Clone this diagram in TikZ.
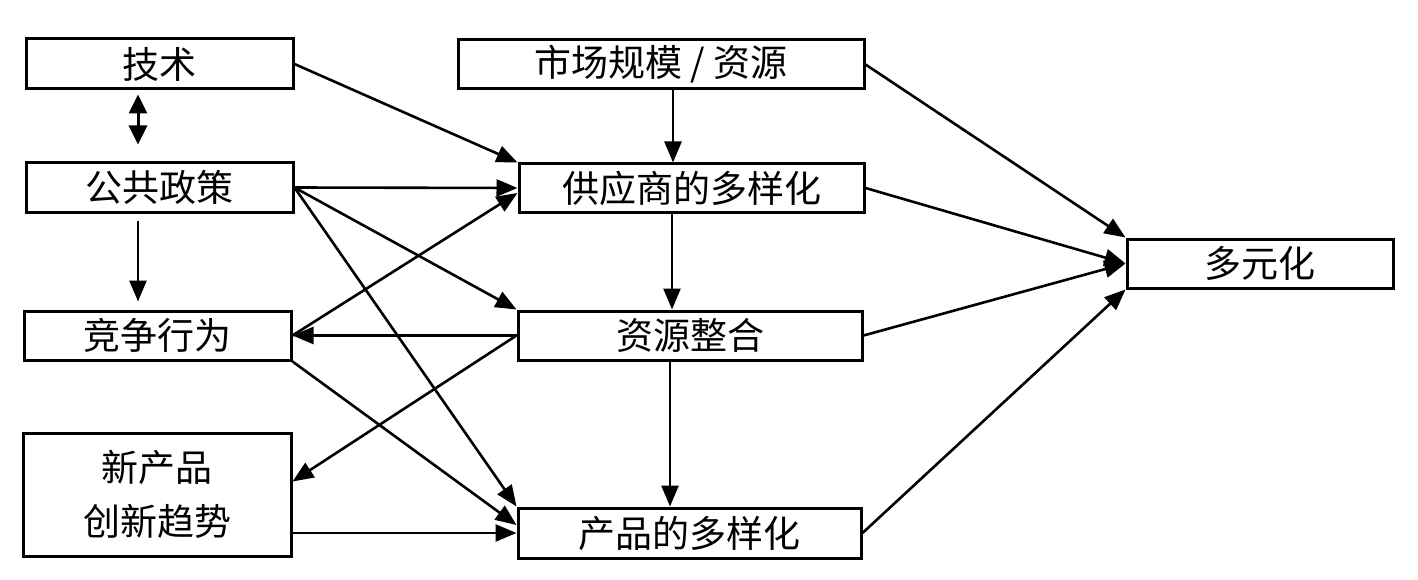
\documentclass[tikz,border=0pt]{standalone}
\usepackage{fontspec}
\newfontfamily\cjk{Noto Sans CJK SC}
\usetikzlibrary{arrows.meta,calc}
\begin{document}
\begin{tikzpicture}[x=1pt,y=-1pt,
  box/.style={draw,line width=3pt,rectangle,inner sep=0pt,font=\cjk\fontsize{37}{54}\selectfont,align=center},
  arr/.style={line width=2.6pt,-{Triangle[length=21pt,width=17pt]}},
  darr/.style={line width=3pt,{Triangle[length=19pt,width=18pt]}-{Triangle[length=19pt,width=18pt]}}]
\useasboundingbox (0,0) rectangle (1418,580);
\node[box,minimum width=267pt,minimum height=50pt] (js) at (159.5,64) {技术};
\node[box,minimum width=267pt,minimum height=49pt] (gg) at (159.5,187.5) {公共政策};
\node[box,minimum width=267pt,minimum height=49pt] (jz) at (157.5,335.5) {竞争行为};
\node[box,minimum width=268pt,minimum height=123pt] (xcp) at (157,494.5) {新产品\\创新趋势};
\node[box,minimum width=406pt,minimum height=49pt] (sc) at (661,64.5) {市场规模 / 资源};
\node[box,minimum width=345pt,minimum height=48pt] (gys) at (691.5,188) {供应商的多样化};
\node[box,minimum width=344pt,minimum height=49pt] (zy) at (690,335.5) {资源整合};
\node[box,minimum width=343pt,minimum height=50pt] (cp) at (689.5,533) {产品的多样化};
\node[box,minimum width=266pt,minimum height=49pt] (dy) at (1260,263.5) {多元化};
% left column
\draw[darr] ($(js.south)+(-21.5,4)$) -- ($(gg.north)+(-21.5,-17)$);
\draw[arr] ($(gg.south)+(-21.5,7)$) -- ($(jz.north)+(-19.5,-8)$);
% to middle column
\draw[arr] (js.east) -- (gys.north west);
\draw[arr] (gg.east) -- (gys.west);
\draw[arr] (gg.east) -- (zy.north west);
\draw[arr] (gg.east) -- (cp.north west);
\draw[arr] (zy.west) -- (jz.east);
\draw[arr] (jz.east) -- ($(gys.west)+(0,5)$);
\draw[arr] (zy.west) -- ($(xcp.east)+(0,-13)$);
\draw[arr] (jz.south east) -- ($(cp.west)+(0,-8)$);
\draw[arr] (xcp.east |- cp.west) -- (cp.west);
% middle column vertical
\draw[arr] ($(sc.south)+(12,0)$) coordinate (v1) -- (v1 |- gys.north);
\draw[arr] ($(gys.south)+(-19.5,0)$) coordinate (v2) -- (v2 |- zy.north);
\draw[arr] ($(zy.south)+(-20,0)$) coordinate (v3) -- (v3 |- cp.north);
% to right
\draw[arr] (sc.east) -- (dy.north west);
\draw[arr] (gys.east) -- (dy.west);
\draw[arr] (zy.east) -- (dy.west);
\draw[arr] (cp.east) -- (dy.south west);
\end{tikzpicture}
\end{document}
